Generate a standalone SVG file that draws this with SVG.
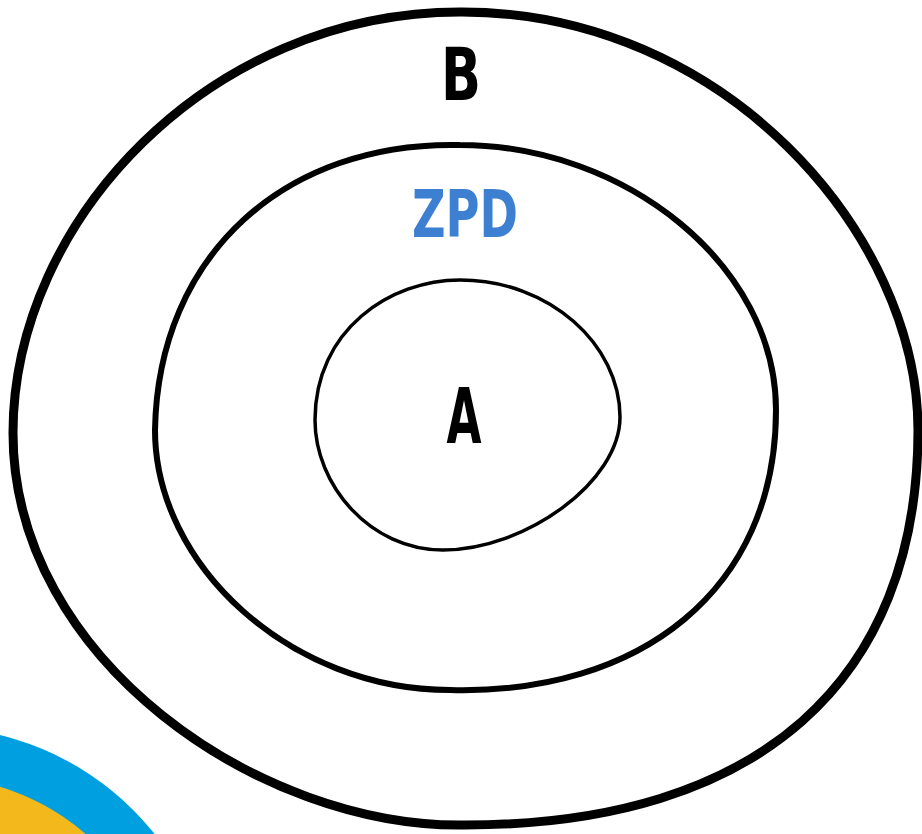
<svg xmlns="http://www.w3.org/2000/svg" width="922" height="834" viewBox="0 0 922 834">
<style>
.ring{fill:none;stroke:#000;stroke-linejoin:round;stroke-linecap:round}
.lbl{font-family:"DejaVu Sans Condensed","DejaVu Sans",sans-serif;font-weight:bold;text-anchor:middle}
</style>
<rect width="922" height="834" fill="#fff"/>
<g id="corner">
<circle cx="-67" cy="1010" r="283" fill="#009fe0"/>
<circle cx="-67" cy="1010" r="233" fill="#f2b81c"/>
</g>
<g id="outer-B">
<path class="ring" stroke-width="9" d="M460 12 C725 11 918 235 918 430 C918 680 760 825 465 825 C260 828 13 660 13 433 C13 220 210 12 460 12 Z"/>
<text class="lbl" x="461" y="100" font-size="73" textLength="40" lengthAdjust="spacingAndGlyphs" fill="#000">B</text>
</g>
<g id="middle-ZPD">
<path class="ring" stroke-width="6" d="M460 145 C625 145 776 265 776 410 C776 590 640 695 450 690 C290 690 155 565 155 430 C158 255 285 141 460 145 Z"/>
<text class="lbl" x="465" y="237" font-size="66" textLength="106" lengthAdjust="spacingAndGlyphs" fill="#3d7fd0">ZPD</text>
</g>
<g id="inner-A">
<path class="ring" stroke-width="3.5" d="M460 280 C550 280 620 345 620 417 C620 482 525 550 443 550 C370 550 315 485 315 420 C315 330 390 280 460 280 Z"/>
<text class="lbl" x="464" y="443" font-size="77" textLength="35" lengthAdjust="spacingAndGlyphs" fill="#000">A</text>
</g>
<g id="connectors"/>
</svg>
